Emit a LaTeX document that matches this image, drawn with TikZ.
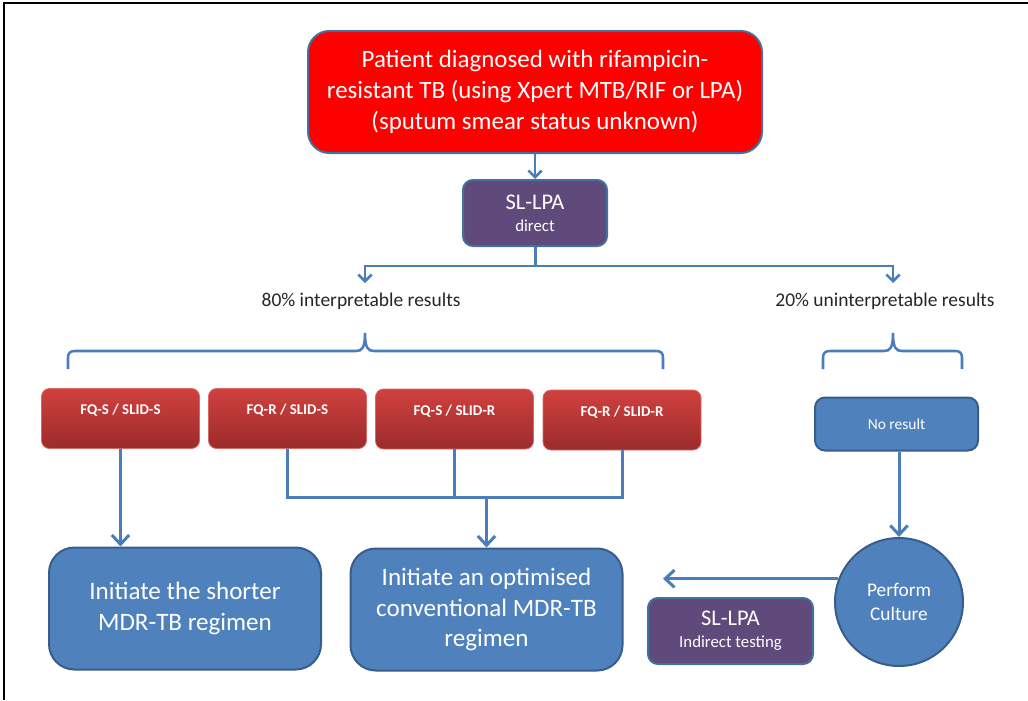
\documentclass[tikz,border=0pt]{standalone}
\usepackage{fontspec}
\setmainfont{Carlito}
\usetikzlibrary{arrows.meta,calc}
\definecolor{redtop}{HTML}{FF0000}
\definecolor{edgeblue}{HTML}{41719C}
\definecolor{purp}{HTML}{604A7B}
\definecolor{bluefill}{HTML}{4F81BD}
\definecolor{blueedge}{HTML}{385D8A}
\definecolor{conn}{HTML}{4A7EBB}
\definecolor{rtop}{HTML}{D0413E}
\definecolor{rbot}{HTML}{9B2B2B}
\definecolor{txtgray}{HTML}{262626}
\begin{document}
\begin{tikzpicture}[x=0.75pt,y=-0.75pt,
  boxbase/.style={inner sep=0pt, align=center, text=white, line width=1.5pt},
  redbig/.style={boxbase, rounded corners=16pt, fill=redtop, draw=edgeblue,
    minimum width=340.5pt, minimum height=91.5pt,
    font=\fontsize{18.7}{23.25}\selectfont},
  purpbox/.style={boxbase, rounded corners=7.5pt, fill=purp, draw=edgeblue,
    minimum height=49.5pt, font=\fontsize{16.8}{17.5}\selectfont},
  fqbox/.style={boxbase, rounded corners=6pt, top color=rtop, bottom color=rbot,
    draw=rtop!80!white, line width=0.6pt,
    minimum width=118.5pt, minimum height=45pt,
    font=\fontsize{11.2}{12}\bfseries, text height=7.5pt, text depth=13pt},
  bluebox/.style={boxbase, rounded corners=7.5pt, fill=bluefill, draw=blueedge},
  bigblue/.style={boxbase, rounded corners=19pt, fill=bluefill, draw=blueedge,
    minimum width=204pt, minimum height=91.5pt,
    font=\fontsize{18.8}{23}\selectfont},
  lbl/.style={inner sep=0pt, text=txtgray, font=\fontsize{14.6}{16}\selectfont},
  line/.style={draw=conn, line width=2.25pt},
  arr/.style={line, -{Straight Barb[length=7pt,width=13pt,line width=2.25pt]}},
  smallarr/.style={draw=conn, line width=1.9pt, -{Straight Barb[length=5pt,width=10pt,line width=1.9pt]}},
  bracepath/.style={draw=conn, line width=1.9pt}
]
\useasboundingbox (0,0) rectangle (1028,700);
\fill[white] (0,0) rectangle (1028,700);
% frame
\draw[black, line width=2.2pt] (4,700) -- (4,3) -- (1028,3);

% nodes
\node[redbig] (top) at (535,92) {Patient diagnosed with rifampicin-\\resistant TB (using Xpert MTB/RIF or LPA)\\(sputum smear status unknown)};
\node[purpbox, minimum width=108pt] (sl) at (535,213) {SL-LPA\\[-1pt]{\fontsize{12.6}{13}\selectfont direct}};

\coordinate (a80) at (365,283);
\coordinate (a20) at (893,283);
\node[lbl] (t80) at (361,301) {80\% interpretable results};
\node[lbl] (t20) at (885,301) {20\% uninterpretable results};

\node[fqbox] (b1) at (120.5,418.5) {FQ-S / SLID-S};
\node[fqbox] (b2) at (287.5,418.5) {FQ-R / SLID-S};
\node[fqbox] (b3) at (454.5,419) {FQ-S / SLID-R};
\node[fqbox] (b4) at (622,420) {FQ-R / SLID-R};

\node[bluebox, minimum width=122.25pt, minimum height=39.75pt,
  font=\fontsize{11.6}{13}\selectfont] (nr) at (896.5,424) {No result};

\node[bigblue] (g1) at (185,608.5) {Initiate the shorter\\MDR-TB regimen};
\node[bigblue] (g2) at (486.5,609.5) {Initiate an optimised\\conventional MDR-TB\\regimen};

\node[boxbase, circle, fill=bluefill, draw=blueedge, minimum size=96pt,
  font=\fontsize{14.5}{18}\selectfont] (cu) at (899,602) {Perform\\Culture};

\node[purpbox, minimum width=123.75pt] (sl2) at (730.5,631) {SL-LPA\\[-1pt]{\fontsize{12.6}{13}\selectfont Indirect testing}};

\coordinate (ae) at (663,579);
\coordinate (m) at (0,497);

% connectors
\draw[smallarr] (top.south) -- (sl.north);
\draw[line] (sl.south) -- ++(0,19) coordinate (j);
\draw[smallarr] (j) -| (a80);
\draw[smallarr] (j) -| (a20);

% braces
\draw[bracepath] (68,369) -- (68,358) .. controls (68,353) and (70,351) .. (75,351)
  -- (356,351) .. controls (362,351) and (365,348) .. (365,333)
  .. controls (365,348) and (368,351) .. (374,351)
  -- (656,351) .. controls (661,351) and (663,353) .. (663,358) -- (663,369);
\draw[bracepath] (823,369) -- (823,358) .. controls (823,353) and (825,351) .. (830,351)
  -- (884,351) .. controls (890,351) and (893,348) .. (893,333)
  .. controls (893,348) and (896,351) .. (902,351)
  -- (955,351) .. controls (960,351) and (962,353) .. (962,358) -- (962,369);

\draw[arr] (b1.south) -- (b1.south |- g1.north);
\draw[line] (b2.south) |- (b4.south |- m) -- (b4.south);
\draw[line] (b3.south) -- (b3.south |- m);
\draw[arr] (g2.north |- m) -- (g2.north);

\draw[arr] (nr.south -| cu.north) -- (cu.north);
\draw[arr] (cu.159) -- (cu.159 -| ae);
\end{tikzpicture}
\end{document}
